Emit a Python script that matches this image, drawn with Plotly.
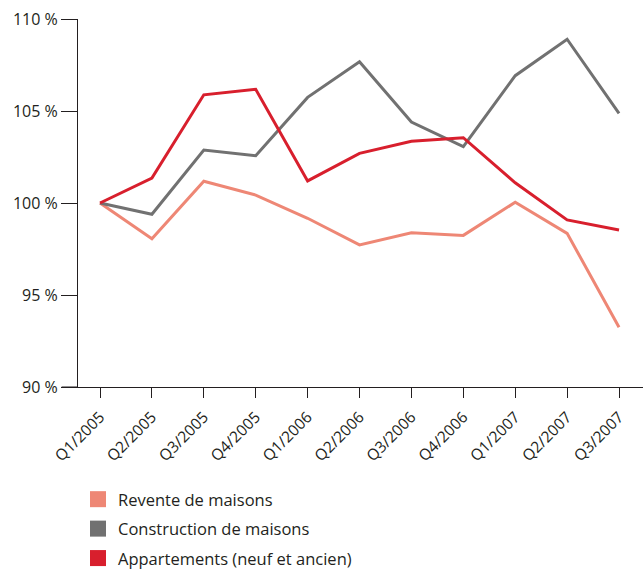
import plotly.graph_objects as go

# quarters on the x axis
quarters = ["Q1/2005", "Q2/2005", "Q3/2005", "Q4/2005", "Q1/2006", "Q2/2006",
            "Q3/2006", "Q4/2006", "Q1/2007", "Q2/2007", "Q3/2007"]

# index values in percent
revente = [100.0, 98.06, 101.18, 100.43, 99.17, 97.72, 98.38, 98.24, 100.04, 98.35, 93.25]
construction = [100.0, 99.39, 102.88, 102.57, 105.74, 107.68, 104.4, 103.06, 106.92, 108.9, 104.87]
appartements = [100.0, 101.35, 105.88, 106.18, 101.2, 102.7, 103.35, 103.55, 101.1, 99.08, 98.53]

y_ticks = [90, 95, 100, 105, 110]
y_labels = ["90 %", "95 %", "100 %", "105 %", "110 %"]

series = [
    ("Revente de maisons", revente, "#EE8775"),
    ("Construction de maisons", construction, "#717171"),
    ("Appartements (neuf et ancien)", appartements, "#D81F2D"),
]

xs = list(range(len(quarters)))
font = "Open Sans, Noto Sans, sans-serif"

fig = go.Figure()
for i, (name, vals, col) in enumerate(series):
    # the line itself
    fig.add_trace(go.Scatter(x=xs, y=vals, mode="lines", line=dict(color=col, width=3),
                             showlegend=False, hoverinfo="skip"))
    # square swatch for the legend
    fig.add_trace(go.Scatter(x=[None], y=[None], mode="markers", name=name, legendgroup=f"g{i}",
                             marker=dict(symbol="square", size=16, color=col)))

fig.update_layout(
    width=643, height=571,
    margin=dict(l=78, r=0, t=19, b=184, autoexpand=False),
    paper_bgcolor="white", plot_bgcolor="white",
    font=dict(family=font, size=16, color="#231f20"),
    xaxis=dict(range=[-0.424, 10.462], tickvals=xs, ticktext=quarters, tickangle=-45,
               showgrid=False, zeroline=False, showline=True, linecolor="#231f20", linewidth=1,
               ticks="outside", ticklen=10, tickcolor="#231f20", tickfont=dict(size=15.5),
               ticklabelstandoff=4, automargin=False, ticklabeloverflow="allow"),
    yaxis=dict(range=[90, 110], tickvals=y_ticks, ticktext=y_labels,
               showgrid=False, zeroline=False, showline=True, linecolor="#231f20", linewidth=1,
               ticks="outside", ticklen=16, tickcolor="#231f20", tickfont=dict(size=16),
               automargin=False, ticklabeloverflow="allow"),
    legend=dict(x=0.0, xanchor="left", y=-0.258, yanchor="top", orientation="v",
                traceorder="grouped", tracegroupgap=5,
                font=dict(size=16.5), bgcolor="rgba(0,0,0,0)"),
)

# x axis line runs a little past the y axis, to the left
fig.add_shape(type="line", xref="paper", yref="paper", x0=-0.029, x1=0, y0=0, y1=0,
              line=dict(color="#231f20", width=1))

# drop the default page margin so the figure fills the window exactly
fig.write_html("out.html", config={"displayModeBar": False},
               post_script="document.body.style.margin='0';")
